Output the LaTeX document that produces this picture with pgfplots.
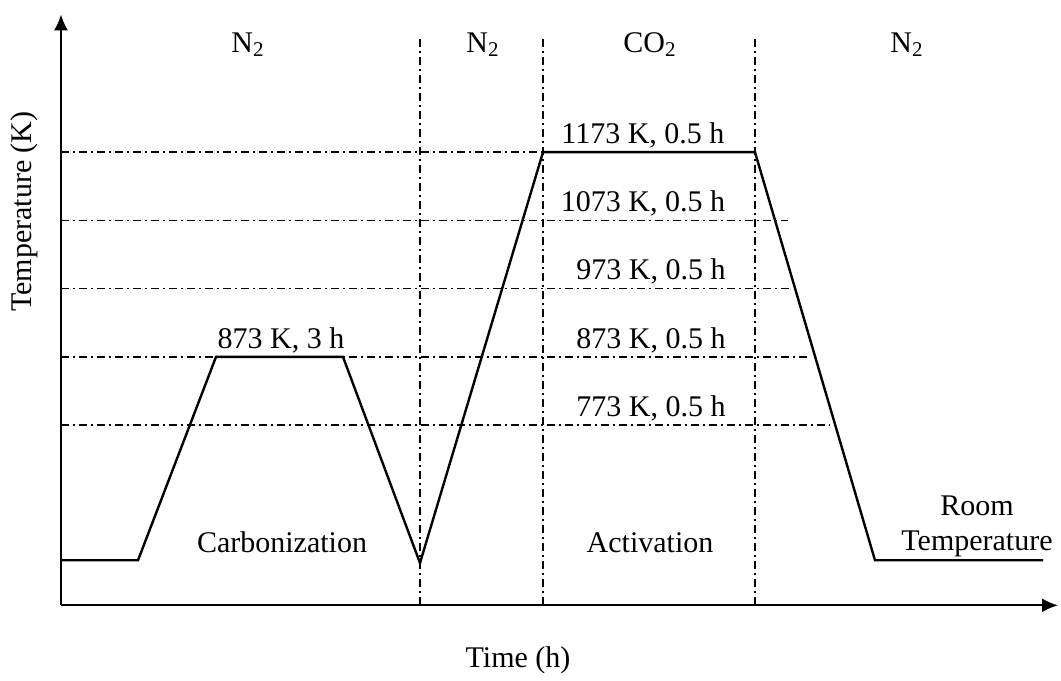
\documentclass[border=0pt]{standalone}
\usepackage{fontspec}
\setmainfont{Liberation Serif}
\usepackage{pgfplots}
\usepackage{pgfplotstable}
\pgfplotsset{compat=1.18}
\usetikzlibrary{arrows.meta}

\pgfplotstableread{
x y
0 575
77 575
155 873
282 873
359 571
482 1173
694 1173
814 575
982 575
}\profile

\tikzset{dd/.style={black, line width=0.8pt, dash pattern=on 4pt off 2pt on 1pt off 2pt}}

\begin{document}
\begin{tikzpicture}[every node/.style={font=\fontsize{15}{18}\selectfont}]
\begin{axis}[
  scale only axis, width=498.5pt, height=295.5pt,
  xmin=0, xmax=997, ymin=509, ymax=1375,
  axis lines=none,
  xtick=\empty, ytick=\empty, clip=false,
]
% invisible frame for picture proportions
\path (axis cs:-61,411) rectangle (axis cs:1000,1396);
% axes with arrows
\addplot[black, line width=1pt, -{Latex[length=8pt,width=7pt]}] coordinates {(0,509) (997,509)};
\addplot[black, line width=1pt, -{Latex[length=8pt,width=7pt]}] coordinates {(0,509) (0,1375)};
% horizontal levels
\addplot[dd] coordinates {(0,1173) (482,1173)};
\addplot[dd] coordinates {(0,1073) (727,1073)};
\addplot[dd] coordinates {(0,973) (729,973)};
\addplot[dd] coordinates {(0,873) (749,873)};
\addplot[dd] coordinates {(0,773) (769,773)};
% vertical separators
\addplot[dd] coordinates {(359,509) (359,1340)};
\addplot[dd] coordinates {(482,509) (482,1340)};
\addplot[dd] coordinates {(694,509) (694,1340)};
% profile
\addplot[black, line width=1.2pt] table {\profile};
% gas labels
\node at (axis cs:187,1331) {N\textsubscript{2}};
\node at (axis cs:422,1331) {N\textsubscript{2}};
\node at (axis cs:589,1331) {CO\textsubscript{2}};
\node at (axis cs:846,1331) {N\textsubscript{2}};
% level labels
\node[anchor=base] at (axis cs:220,886) {873 K, 3 h};
\node[anchor=base] at (axis cs:582,1186) {1173 K, 0.5 h};
\node[anchor=base] at (axis cs:582,1086) {1073 K, 0.5 h};
\node[anchor=base] at (axis cs:590,986) {973 K, 0.5 h};
\node[anchor=base] at (axis cs:590,886) {873 K, 0.5 h};
\node[anchor=base] at (axis cs:590,786) {773 K, 0.5 h};
% stage labels
\node[anchor=base] at (axis cs:221,586) {Carbonization};
\node[anchor=base] at (axis cs:589,586) {Activation};
\node[anchor=base] at (axis cs:916,641) {Room};
\node[anchor=base] at (axis cs:916,590) {Temperature};
% axis titles
\node[rotate=90] at (axis cs:-37,1086) {Temperature (K)};
\node[anchor=base] at (axis cs:457,418) {Time (h)};
\end{axis}
\end{tikzpicture}
\end{document}
